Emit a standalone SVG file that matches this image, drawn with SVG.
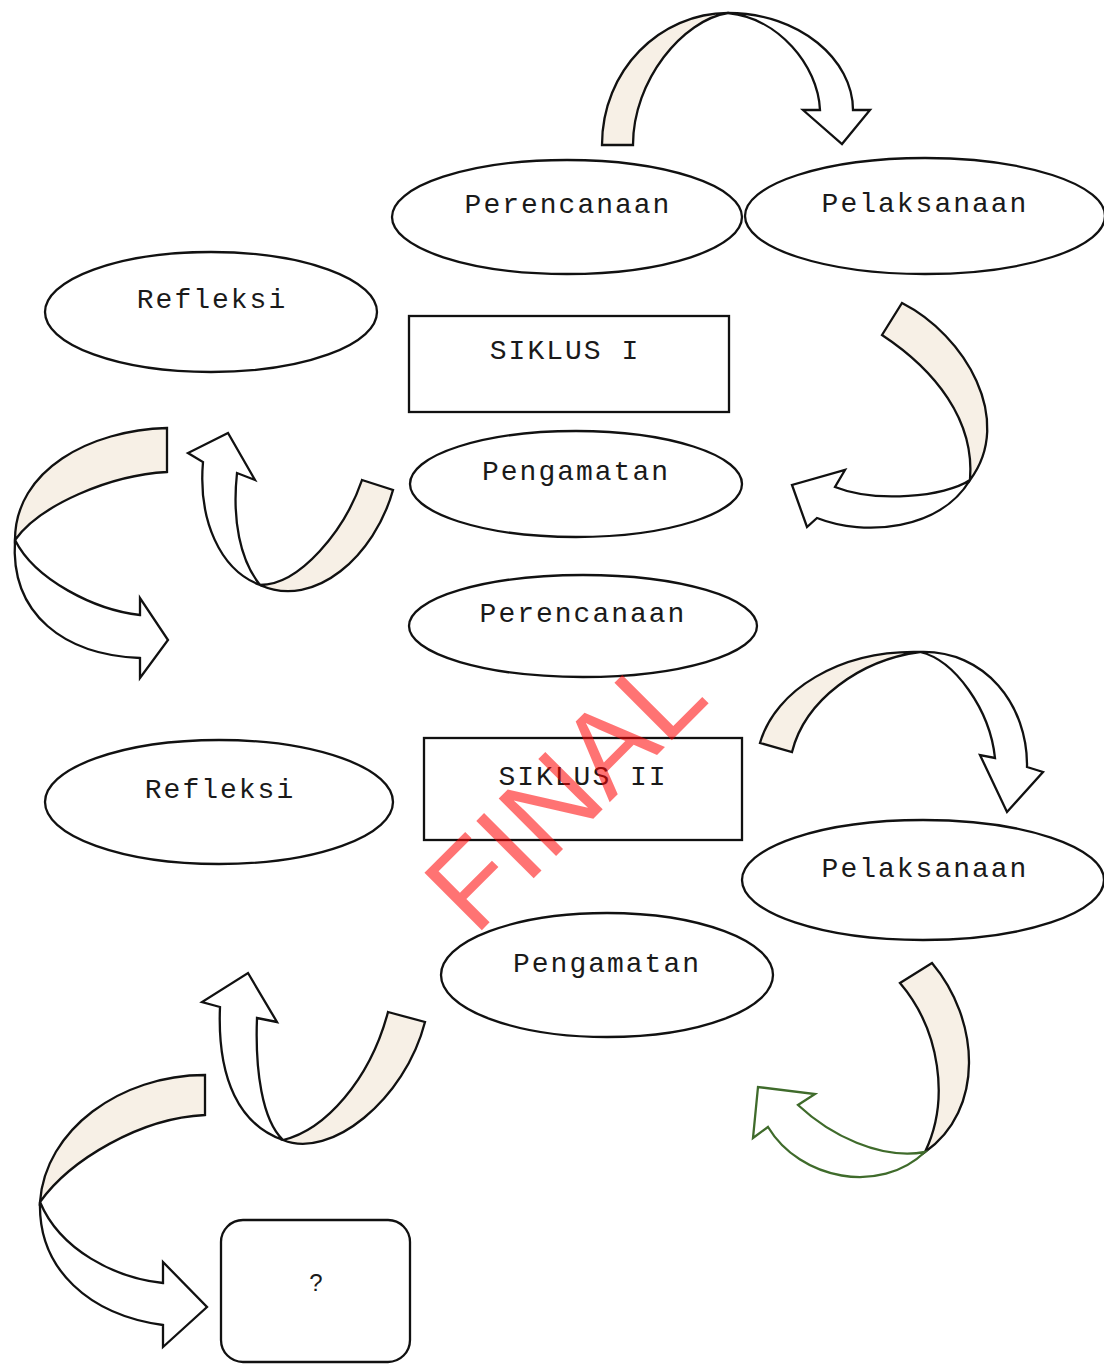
<svg xmlns="http://www.w3.org/2000/svg" width="1104" height="1364" viewBox="0 0 1104 1364">
<style>
.n{fill:#fff;stroke:#111;stroke-width:2.3}
.t{font-family:"Liberation Mono",monospace;font-size:28px;letter-spacing:2px;fill:#1a1a1a;text-anchor:middle}
.back{fill:#f7f0e6;stroke:#111;stroke-width:2.3}
.front{fill:#fff;stroke:#111;stroke-width:2.3;stroke-linejoin:miter}
.green{stroke:#3f6b2b}
</style>
<rect width="1104" height="1364" fill="#fff"/>
<g id="connectors">
  <g id="arrow-a">
    <path class="back" d="M602,145 C602,70 660,13 728,13 C683,20 633,80 633,145 Z"/>
    <path class="front" d="M728,13 C778,18 818,65 820,110 L803,110 L842,144 L870,110 L853,110 C853,60 800,13 728,13 Z"/>
  </g>
  <g id="arrow-b">
    <path class="back" d="M882,335 L902,303 C965,335 1015,420 970,480 C975,420 935,370 882,335 Z"/>
    <path class="front" d="M970,480 C945,497 875,503 835,487 L845,470 L792,485 L807,527 L817,518 C865,537 940,530 970,480 Z"/>
  </g>
  <g id="arrow-c">
    <path class="back" d="M167,428 C90,430 15,470 15,540 C40,505 110,475 167,472 Z"/>
    <path class="front" d="M15,540 C35,580 95,610 140,615 L140,598 L168,640 L140,678 L140,658 C65,655 10,615 15,540 Z"/>
  </g>
  <g id="arrow-d">
    <path class="back" d="M362,480 L393,490 C375,555 315,610 260,585 C300,585 345,530 362,480 Z"/>
    <path class="front" d="M203,462 C198,520 220,570 260,585 C240,560 232,520 237,473 L255,480 L228,433 L188,453 Z"/>
  </g>
  <g id="arrow-e">
    <path class="back" d="M760,743 C775,690 840,650 920,652 C860,660 805,700 792,752 Z"/>
    <path class="front" d="M920,652 C955,660 990,710 995,758 L980,755 L1007,812 L1043,772 L1027,767 C1028,705 985,650 920,652 Z"/>
  </g>
  <g id="arrow-f">
    <path class="back" d="M388,1012 L425,1022 C405,1100 330,1160 283,1140 C325,1130 370,1080 388,1012 Z"/>
    <path class="front" d="M220,1007 C217,1080 240,1125 283,1140 C262,1120 255,1070 257,1018 L277,1022 L248,973 L202,1002 Z"/>
  </g>
  <g id="arrow-g">
    <path class="back" d="M205,1075 C120,1075 45,1130 40,1202 C70,1160 140,1118 205,1115 Z"/>
    <path class="front" d="M40,1202 C60,1250 115,1278 163,1283 L163,1262 L207,1307 L163,1347 L163,1325 C90,1315 38,1270 40,1202 Z"/>
  </g>
  <g id="arrow-h">
    <path class="back" d="M900,983 L932,963 C980,1020 985,1110 925,1152 C950,1100 940,1030 900,983 Z" stroke="#2d3a2a"/>
    <path class="front green" d="M925,1152 C880,1160 830,1135 798,1105 L815,1094 L758,1087 L753,1138 L768,1127 C800,1180 880,1195 925,1152 Z"/>
  </g>
</g>
<g id="perencanaan-1"><ellipse class="n" cx="567" cy="217" rx="175" ry="57"/><text class="t" x="568" y="213">Perencanaan</text></g>
<g id="pelaksanaan-1"><ellipse class="n" cx="925" cy="216" rx="180" ry="58"/><text class="t" x="925" y="212">Pelaksanaan</text></g>
<g id="refleksi-1"><ellipse class="n" cx="211" cy="312" rx="166" ry="60"/><text class="t" x="212" y="308">Refleksi</text></g>
<g id="siklus-1"><rect class="n" x="409" y="316" width="320" height="96" stroke-width="2.6"/><text class="t" x="565" y="359">SIKLUS I</text></g>
<g id="pengamatan-1"><ellipse class="n" cx="576" cy="484" rx="166" ry="53"/><text class="t" x="576" y="480">Pengamatan</text></g>
<g id="perencanaan-2"><ellipse class="n" cx="583" cy="626" rx="174" ry="51"/><text class="t" x="583" y="622">Perencanaan</text></g>
<g id="refleksi-2"><ellipse class="n" cx="219" cy="802" rx="174" ry="62"/><text class="t" x="220" y="798">Refleksi</text></g>
<g id="siklus-2"><rect class="n" x="424" y="738" width="318" height="102" stroke-width="2.6"/><text class="t" x="583" y="785">SIKLUS II</text></g>
<g id="pelaksanaan-2"><ellipse class="n" cx="923" cy="880" rx="181" ry="60"/><text class="t" x="925" y="877">Pelaksanaan</text></g>
<g id="pengamatan-2"><ellipse class="n" cx="607" cy="975" rx="166" ry="62"/><text class="t" x="607" y="972">Pengamatan</text></g>
<g id="result"><rect class="n" x="221" y="1220" width="189" height="142" rx="22"/><text x="316" y="1291" font-family="Liberation Sans, sans-serif" font-size="24" fill="#1a1a1a" text-anchor="middle">?</text></g>
<text transform="translate(475,937) rotate(-45)" font-family="Liberation Sans, Arial, sans-serif" font-size="118" fill="#ff0000" fill-opacity="0.55">FINAL</text>
</svg>
